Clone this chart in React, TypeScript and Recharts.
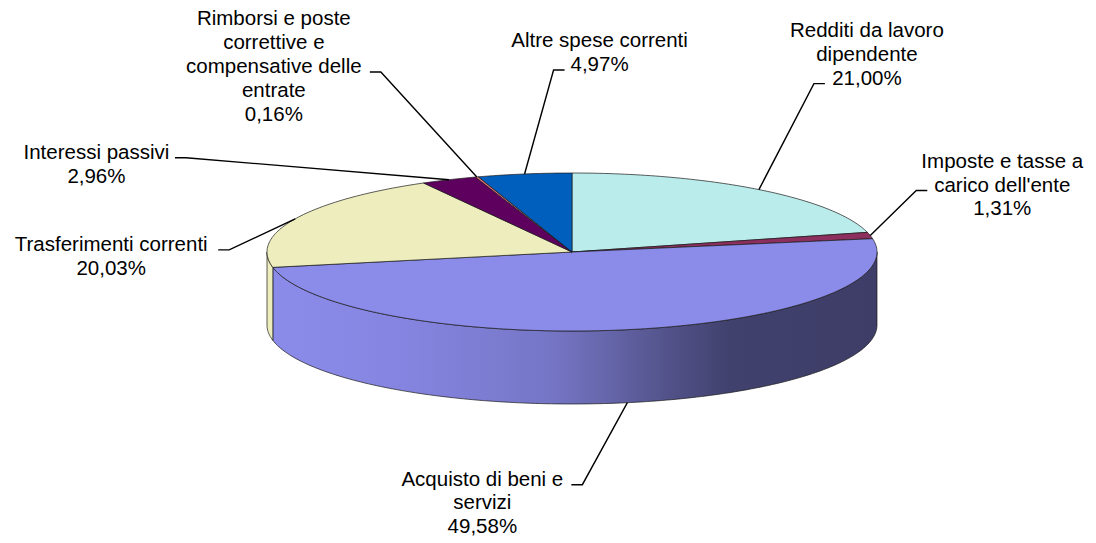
import React from "react";
import { PieChart, Pie } from "recharts";

const categories = [
  "Redditi da lavoro dipendente",
  "Imposte e tasse a carico dell'ente",
  "Acquisto di beni e servizi",
  "Trasferimenti correnti",
  "Interessi passivi",
  "Rimborsi e poste correttive e compensative delle entrate",
  "Altre spese correnti",
];
const shares = [21.0, 1.31, 49.58, 20.03, 2.96, 0.16, 4.97];
const labelLines = [
  ["Redditi da lavoro", "dipendente"],
  ["Imposte e tasse a", "carico dell'ente"],
  ["Acquisto di beni e", "servizi"],
  ["Trasferimenti correnti"],
  ["Interessi passivi"],
  ["Rimborsi e poste", "correttive e", "compensative delle", "entrate"],
  ["Altre spese correnti"],
];
const colors = ["#bbecec", "#8d2f5e", "#8b8bea", "#ededbe", "#5e005e", "#eb7676", "#005ebd"];

// elbow offset from the slice anchor, text centre offset from the elbow, line the leader meets
const labelPlacement = [
  { ex: 55, ey: -106, tx: 53, line: 2 },
  { ex: 46, ey: -45, tx: 86, line: 1 },
  { ex: -45, ey: 82, tx: -100, line: 0 },
  { ex: -66, ey: 31, tx: -118, line: 0 },
  { ex: -263, ey: -22, tx: -89.5, line: 0 },
  { ex: -96, ey: -105, tx: -107, line: 2 },
  { ex: 29, ey: -104, tx: 46, line: 1 },
];

const data = categories.map((name, i) => ({ name, value: shares[i] }));

const TILT = 0.259;
const DEPTH = 73;
const LINE_H = 23.8;
const RAD = Math.PI / 180;
const FONT = "'Liberation Sans', Arial, sans-serif";

const sideShade = [
  [0, 1.0],
  [0.22, 0.96],
  [0.46, 0.85],
  [0.55, 0.74],
  [0.68, 0.56],
  [0.76, 0.47],
  [1, 0.44],
];

function shade(hex: string, k: number) {
  const n = parseInt(hex.slice(1), 16);
  const c = [(n >> 16) & 255, (n >> 8) & 255, n & 255].map((v) => Math.round(v * k));
  return `rgb(${c[0]},${c[1]},${c[2]})`;
}

function pt(cx: number, cy: number, r: number, deg: number) {
  return [cx + r * Math.cos(deg * RAD), cy - r * TILT * Math.sin(deg * RAD)];
}

function arc(cx: number, cy: number, r: number, from: number, to: number, dy = 0) {
  const steps = Math.max(2, Math.ceil(Math.abs(to - from)));
  const out: string[] = [];
  for (let s = 0; s <= steps; s++) {
    const a = from + ((to - from) * s) / steps;
    const [x, y] = pt(cx, cy, r, a);
    out.push(`${x.toFixed(2)},${(y + dy).toFixed(2)}`);
  }
  return out;
}

const renderSlice = (props: any) => {
  const { cx, cy, outerRadius, startAngle, endAngle, index } = props;
  const lo = Math.min(startAngle, endAngle);
  const hi = Math.max(startAngle, endAngle);
  const walls: number[][] = [];
  for (const k of [0, -360, 360]) {
    const a = Math.max(lo, -180 + k);
    const b = Math.min(hi, k);
    if (b > a) walls.push([a, b]);
  }
  const gid = `side-${index}`;
  const top = `M${cx},${cy} L${arc(cx, cy, outerRadius, startAngle, endAngle).join(" L")} Z`;
  return (
    <g key={`slice-${index}`}>
      <defs>
        <linearGradient id={gid} gradientUnits="userSpaceOnUse" x1={cx - outerRadius} x2={cx + outerRadius} y1={0} y2={0}>
          {sideShade.map(([o, k]) => (
            <stop key={o} offset={o} stopColor={shade(colors[index], k)} />
          ))}
        </linearGradient>
      </defs>
      {walls.map(([a, b], w) => {
        const upper = arc(cx, cy, outerRadius, a, b);
        const lower = arc(cx, cy, outerRadius, b, a, DEPTH);
        return (
          <path
            key={w}
            d={`M${upper.join(" L")} L${lower.join(" L")} Z`}
            fill={`url(#${gid})`}
            stroke="#1a1a1a"
            strokeWidth={0.7}
            strokeLinejoin="round"
          />
        );
      })}
      <path d={top} fill={colors[index]} stroke="#1a1a1a" strokeWidth={0.7} strokeLinejoin="round" />
    </g>
  );
};

const renderLabel = (props: any) => {
  const { cx, cy, outerRadius, midAngle, index } = props;
  const [ax, a0] = pt(cx, cy, outerRadius, midAngle);
  const ay = Math.sin(midAngle * RAD) < 0 ? a0 + DEPTH : a0;
  const p = labelPlacement[index];
  const ex = ax + p.ex;
  const ey = ay + p.ey;
  const tailX = ex + Math.sign(p.tx) * 11;
  const lines = [...labelLines[index], `${shares[index].toFixed(2).replace(".", ",")}%`];
  const tx = ex + p.tx;
  const base0 = ey + 1 - p.line * LINE_H;
  return (
    <g key={`label-${index}`}>
      <polyline
        points={`${ax},${ay} ${ex},${ey} ${tailX},${ey}`}
        fill="none"
        stroke="#000"
        strokeWidth={1.4}
      />
      <text textAnchor="middle" fontFamily={FONT} fontSize={20.5} fill="#000">
        {lines.map((l, i) => (
          <tspan key={i} x={tx} y={base0 + i * LINE_H}>
            {l}
          </tspan>
        ))}
      </text>
    </g>
  );
};

export default function App() {
  return (
    <div style={{ position: "absolute", left: 0, top: 0, background: "#fff" }}>
      <PieChart width={1096} height={543} margin={{ top: 0, right: 0, bottom: 0, left: 0 }}>
        <Pie
          data={data}
          dataKey="value"
          nameKey="name"
          cx={572}
          cy={252}
          outerRadius={305}
          startAngle={90}
          endAngle={-270}
          fill="none"
          stroke="none"
          label={renderSlice}
          labelLine={false}
          isAnimationActive={false}
        />
        <Pie
          data={data}
          dataKey="value"
          nameKey="name"
          cx={572}
          cy={252}
          outerRadius={305}
          startAngle={90}
          endAngle={-270}
          fill="none"
          stroke="none"
          label={renderLabel}
          labelLine={false}
          isAnimationActive={false}
        />
      </PieChart>
    </div>
  );
}
